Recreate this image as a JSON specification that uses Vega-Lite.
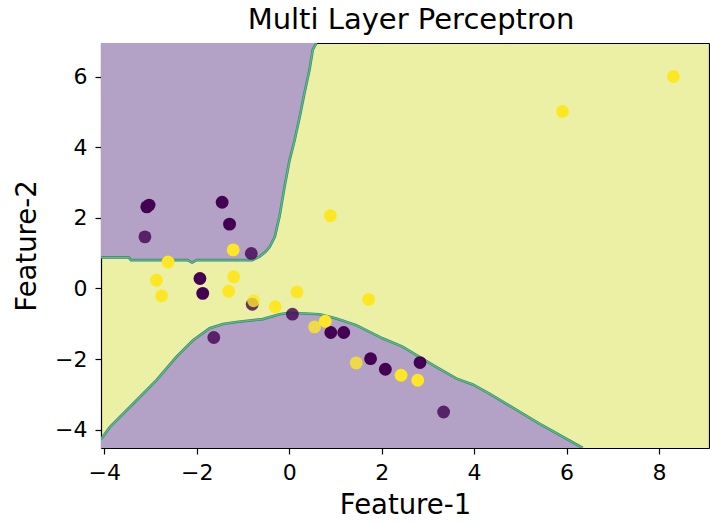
{
  "$schema": "https://vega.github.io/schema/vega-lite/v6.json",
  "width": 608,
  "height": 405,
  "autosize": {"type": "none"},
  "padding": {"left": 101, "top": 43, "right": 1, "bottom": 74},
  "background": "white",
  "config": {
    "font": "DejaVu Sans",
    "view": {"fill": "#ebf0a5", "stroke": null},
    "axis": {
      "grid": false,
      "domainColor": "#000000",
      "domainWidth": 1.2,
      "tickColor": "#000000",
      "tickSize": 6,
      "tickWidth": 1.2,
      "labelFont": "DejaVu Sans",
      "labelFontSize": 22,
      "labelColor": "#000000",
      "labelPadding": 8,
      "titleFont": "DejaVu Sans",
      "titleFontSize": 27.5,
      "titleFontWeight": "normal",
      "titleColor": "#000000",
      "zindex": 1
    }
  },
  "title": {
    "text": "Multi Layer Perceptron",
    "font": "DejaVu Sans",
    "fontSize": 29,
    "fontWeight": "normal",
    "color": "#000000",
    "baseline": "bottom",
    "offset": -21,
    "dx": 6
  },
  "datasets": {
    "upper": [
      {"x": -4.07, "y": 0.88}, {"x": -3.47, "y": 0.88}, {"x": -3.42, "y": 0.8},
      {"x": -2.2, "y": 0.8}, {"x": -2.1, "y": 0.73}, {"x": -2.0, "y": 0.8},
      {"x": -0.8, "y": 0.8}, {"x": -0.64, "y": 0.9}, {"x": -0.5, "y": 1.05},
      {"x": -0.42, "y": 1.18}, {"x": -0.31, "y": 1.46}, {"x": -0.26, "y": 1.75},
      {"x": -0.21, "y": 2.03}, {"x": -0.1, "y": 2.88}, {"x": 0.01, "y": 3.64},
      {"x": 0.12, "y": 4.21}, {"x": 0.23, "y": 4.87}, {"x": 0.33, "y": 5.53},
      {"x": 0.44, "y": 6.19}, {"x": 0.51, "y": 6.76}, {"x": 0.59, "y": 6.95}
    ],
    "lower": [
      {"x": -4.07, "y": -4.27}, {"x": -3.88, "y": -3.93}, {"x": -3.37, "y": -3.26},
      {"x": -2.87, "y": -2.6}, {"x": -2.44, "y": -1.94}, {"x": -2.08, "y": -1.47},
      {"x": -1.72, "y": -1.13}, {"x": -1.43, "y": -1.01}, {"x": -1.14, "y": -0.95},
      {"x": -0.57, "y": -0.87}, {"x": -0.21, "y": -0.73}, {"x": 0.01, "y": -0.69},
      {"x": 0.66, "y": -0.73}, {"x": 1.02, "y": -0.85}, {"x": 1.45, "y": -1.04},
      {"x": 2.03, "y": -1.42}, {"x": 2.45, "y": -1.65}, {"x": 3.15, "y": -2.2},
      {"x": 3.61, "y": -2.55}, {"x": 3.97, "y": -2.72}, {"x": 4.33, "y": -2.98},
      {"x": 4.69, "y": -3.26}, {"x": 5.41, "y": -3.83}, {"x": 6.35, "y": -4.52}
    ],
    "points": [
      {"f1": -3.08, "f2": 2.31, "cls": 0, "split": "train"},
      {"f1": -3.03, "f2": 2.36, "cls": 0, "split": "train"},
      {"f1": -1.45, "f2": 2.44, "cls": 0, "split": "train"},
      {"f1": -1.29, "f2": 1.82, "cls": 0, "split": "train"},
      {"f1": -3.12, "f2": 1.46, "cls": 0, "split": "test"},
      {"f1": -0.82, "f2": 0.99, "cls": 0, "split": "test"},
      {"f1": -1.93, "f2": 0.28, "cls": 0, "split": "train"},
      {"f1": -1.87, "f2": -0.14, "cls": 0, "split": "train"},
      {"f1": -0.8, "f2": -0.45, "cls": 0, "split": "test"},
      {"f1": 0.07, "f2": -0.73, "cls": 0, "split": "test"},
      {"f1": 0.9, "f2": -1.25, "cls": 0, "split": "train"},
      {"f1": 1.18, "f2": -1.25, "cls": 0, "split": "train"},
      {"f1": -1.63, "f2": -1.39, "cls": 0, "split": "test"},
      {"f1": 1.76, "f2": -1.99, "cls": 0, "split": "train"},
      {"f1": 2.08, "f2": -2.29, "cls": 0, "split": "train"},
      {"f1": 2.83, "f2": -2.1, "cls": 0, "split": "train"},
      {"f1": 3.34, "f2": -3.5, "cls": 0, "split": "test"},
      {"f1": -1.21, "f2": 1.09, "cls": 1, "split": "train"},
      {"f1": 0.89, "f2": 2.06, "cls": 1, "split": "train"},
      {"f1": -2.62, "f2": 0.75, "cls": 1, "split": "train"},
      {"f1": -2.87, "f2": 0.23, "cls": 1, "split": "train"},
      {"f1": -1.2, "f2": 0.33, "cls": 1, "split": "train"},
      {"f1": -2.76, "f2": -0.21, "cls": 1, "split": "train"},
      {"f1": -1.31, "f2": -0.08, "cls": 1, "split": "train"},
      {"f1": -0.77, "f2": -0.35, "cls": 1, "split": "test"},
      {"f1": -0.3, "f2": -0.52, "cls": 1, "split": "train"},
      {"f1": 0.17, "f2": -0.1, "cls": 1, "split": "train"},
      {"f1": 0.55, "f2": -1.09, "cls": 1, "split": "test"},
      {"f1": 0.78, "f2": -0.93, "cls": 1, "split": "train"},
      {"f1": 1.72, "f2": -0.31, "cls": 1, "split": "train"},
      {"f1": 1.45, "f2": -2.11, "cls": 1, "split": "test"},
      {"f1": 2.42, "f2": -2.46, "cls": 1, "split": "train"},
      {"f1": 2.78, "f2": -2.6, "cls": 1, "split": "train"},
      {"f1": 5.91, "f2": 5.01, "cls": 1, "split": "train"},
      {"f1": 8.31, "f2": 6.0, "cls": 1, "split": "train"}
    ]
  },
  "resolve": {"axis": {"x": "independent", "y": "independent"}},
  "layer": [
    {
      "data": {"name": "upper"},
      "mark": {"type": "area", "color": "#b3a2c6", "opacity": 1, "clip": true},
      "encoding": {
        "x": {"field": "x", "type": "quantitative", "title": "Feature-1",
              "scale": {"domain": [-4.07, 9.08], "nice": false, "zero": false},
              "axis": {"values": [-4, -2, 0, 2, 4, 6, 8], "orient": "bottom", "titlePadding": 8}},
        "y": {"field": "y", "type": "quantitative", "title": "Feature-2",
              "scale": {"domain": [-4.52, 6.95], "nice": false, "zero": false},
              "axis": {"values": [-4, -2, 0, 2, 4, 6], "orient": "left", "titlePadding": 13}},
        "y2": {"datum": 6.95}
      }
    },
    {
      "data": {"name": "lower"},
      "mark": {"type": "area", "color": "#b3a2c6", "opacity": 1, "clip": true},
      "encoding": {
        "x": {"field": "x", "type": "quantitative", "axis": null},
        "y": {"field": "y", "type": "quantitative", "axis": null},
        "y2": {"datum": -4.52}
      }
    },
    {
      "data": {"name": "upper"},
      "mark": {"type": "line", "color": "#3a7f96", "strokeWidth": 2.6, "clip": true},
      "encoding": {
        "x": {"field": "x", "type": "quantitative", "axis": null},
        "y": {"field": "y", "type": "quantitative", "axis": null}
      }
    },
    {
      "data": {"name": "lower"},
      "mark": {"type": "line", "color": "#3a7f96", "strokeWidth": 2.6, "clip": true},
      "encoding": {
        "x": {"field": "x", "type": "quantitative", "axis": null},
        "y": {"field": "y", "type": "quantitative", "axis": null}
      }
    },
    {
      "data": {"name": "upper"},
      "mark": {"type": "line", "color": "#5cc463", "strokeWidth": 1.3, "clip": true},
      "encoding": {
        "x": {"field": "x", "type": "quantitative", "axis": null},
        "y": {"field": "y", "type": "quantitative", "axis": null}
      }
    },
    {
      "data": {"name": "lower"},
      "mark": {"type": "line", "color": "#5cc463", "strokeWidth": 1.3, "clip": true},
      "encoding": {
        "x": {"field": "x", "type": "quantitative", "axis": null},
        "y": {"field": "y", "type": "quantitative", "axis": null}
      }
    },
    {
      "data": {"name": "points"},
      "mark": {"type": "point", "filled": true, "size": 165, "strokeWidth": 0},
      "encoding": {
        "x": {"field": "f1", "type": "quantitative",
              "axis": {"orient": "top", "labels": false, "ticks": false, "title": null, "domain": true}},
        "y": {"field": "f2", "type": "quantitative",
              "axis": {"orient": "right", "labels": false, "ticks": false, "title": null, "domain": true}},
        "color": {"field": "cls", "type": "nominal",
                  "scale": {"domain": [0, 1], "range": ["#440154", "#fde725"]}, "legend": null},
        "opacity": {"field": "split", "type": "nominal",
                    "scale": {"domain": ["train", "test"], "range": [1, 0.8]}, "legend": null}
      }
    }
  ]
}
